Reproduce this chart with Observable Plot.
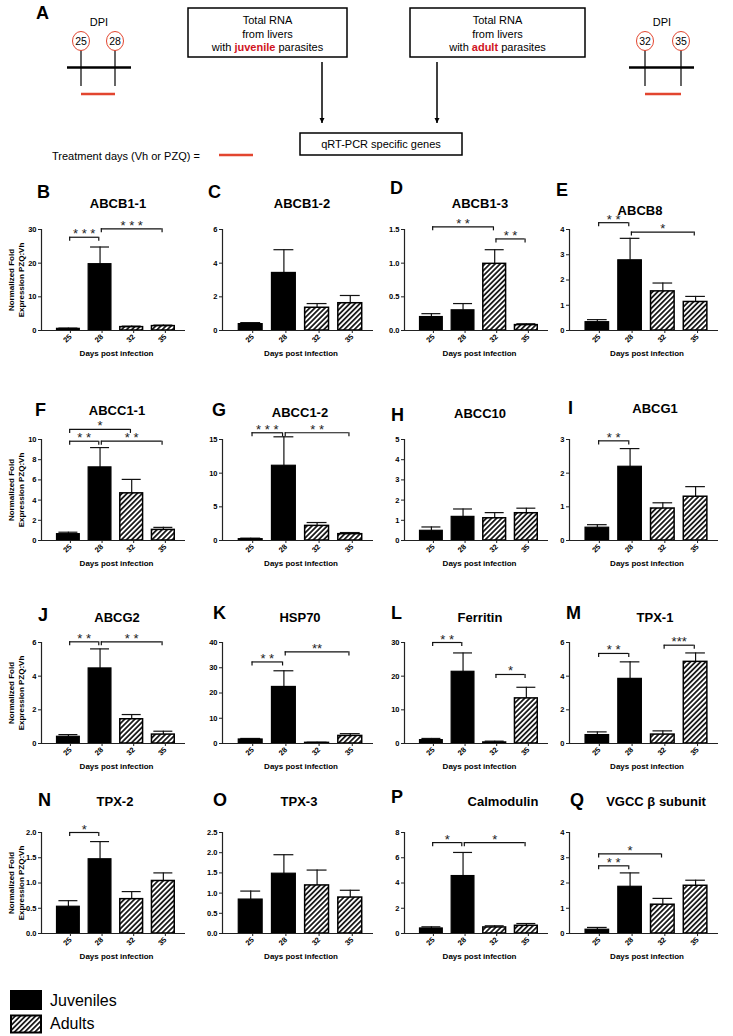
<!DOCTYPE html>
<html><head><meta charset="utf-8">
<script src="https://cdn.jsdelivr.net/npm/d3@7"></script>
<script src="https://cdn.jsdelivr.net/npm/@observablehq/plot@0.6"></script>
<style>
body{margin:0;background:#fff;font-family:"Liberation Sans",Arial,sans-serif;}
#fig{position:relative;width:733px;height:1036px;overflow:hidden;background:#fff;}
.abs{position:absolute;line-height:1;white-space:nowrap;}
.letter{font-weight:bold;font-size:18px;transform:translateY(-50%);}
.title{font-weight:bold;font-size:13px;transform:translate(-50%,-50%);}
</style></head><body><div id="fig"></div>
<script>
// ---------------- data ----------------
const days = ["25", "28", "32", "35"];
const groups = ["Juveniles", "Juveniles", "Adults", "Adults"];
const genes = ["ABCB1-1","ABCB1-2","ABCB1-3","ABCB8","ABCC1-1","ABCC1-2","ABCC10","ABCG1",
               "ABCG2","HSP70","Ferritin","TPX-1","TPX-2","TPX-3","Calmodulin","VGCC β subunit"];
const panelLetters = ["B","C","D","E","F","G","H","I","J","K","L","M","N","O","P","Q"];
// mean normalized fold expression (PZQ:Vh) at days 25, 28, 32, 35
const means = [
  [0.5, 19.7, 1.0, 1.3],
  [0.38, 3.42, 1.35, 1.62],
  [0.2, 0.3, 0.99, 0.08],
  [0.33, 2.78, 1.55, 1.13],
  [0.63, 7.24, 4.67, 1.05],
  [0.2, 11.1, 2.17, 0.94],
  [0.48, 1.17, 1.1, 1.35],
  [0.38, 2.19, 0.95, 1.3],
  [0.4, 4.46, 1.44, 0.53],
  [1.6, 22.4, 0.25, 3.0],
  [1.0, 21.3, 0.3, 13.4],
  [0.5, 3.84, 0.53, 4.85],
  [0.53, 1.47, 0.68, 1.04],
  [0.84, 1.48, 1.19, 0.89],
  [0.4, 4.55, 0.48, 0.61],
  [0.15, 1.85, 1.14, 1.89]
];
// standard error (upper error bar)
const sems = [
  [0.2, 5.1, 0.3, 0.3],
  [0.09, 1.38, 0.25, 0.46],
  [0.05, 0.1, 0.21, 0.02],
  [0.1, 0.87, 0.33, 0.22],
  [0.19, 1.96, 1.38, 0.25],
  [0.15, 4.3, 0.5, 0.24],
  [0.19, 0.39, 0.28, 0.25],
  [0.09, 0.54, 0.17, 0.3],
  [0.13, 1.16, 0.28, 0.2],
  [0.4, 6.4, 0.25, 0.9],
  [0.5, 5.6, 0.4, 3.3],
  [0.19, 1.01, 0.22, 0.53],
  [0.12, 0.35, 0.15, 0.16],
  [0.21, 0.47, 0.38, 0.18],
  [0.13, 1.87, 0.13, 0.18],
  [0.09, 0.55, 0.25, 0.22]
];
// y tick labels per panel
const yTickLabels = [
  ["0","10","20","30"],
  ["0","2","4","6"],
  ["0.0","0.5","1.0","1.5"],
  ["0","1","2","3","4"],
  ["0","2","4","6","8","10"],
  ["0","5","10","15"],
  ["0","1","2","3","4","5"],
  ["0","1","2","3"],
  ["0","2","4","6"],
  ["0","10","20","30","40"],
  ["0","10","20","30"],
  ["0","2","4","6"],
  ["0.0","0.5","1.0","1.5","2.0"],
  ["0.0","0.5","1.0","1.5","2.0","2.5"],
  ["0","2","4","6","8"],
  ["0","1","2","3","4"]
];
// significance brackets: gene, from day, to day, bracket level, stars
const brackets = [
  ["ABCB1-1","25","28",27.7,"* * *"], ["ABCB1-1","28","35",30.2,"* * *"],
  ["ABCB1-3","25","32",1.54,"* *"], ["ABCB1-3","32","35",1.36,"* *"],
  ["ABCB8","25","28",4.27,"* *"], ["ABCB8","28","35",3.9,"*"],
  ["ABCC1-1","25","28",9.83,"* *"], ["ABCC1-1","28","35",9.83,"* *"], ["ABCC1-1","25","32",11.0,"*"],
  ["ABCC1-2","25","28",16.0,"* * *"], ["ABCC1-2","28","35",16.0,"* *"],
  ["ABCG1","25","28",2.96,"* *"],
  ["ABCG2","25","28",6.04,"* *"], ["ABCG2","28","35",6.04,"* *"],
  ["HSP70","25","28",32.3,"* *"], ["HSP70","28","35",36.3,"**"],
  ["Ferritin","25","28",30,"* *"], ["Ferritin","32","35",20.5,"*"],
  ["TPX-1","25","28",5.35,"* *"], ["TPX-1","32","35",5.84,"***"],
  ["TPX-2","25","28",2.0,"*"],
  ["Calmodulin","25","28",7.2,"*"], ["Calmodulin","28","35",7.2,"*"],
  ["VGCC β subunit","25","28",2.68,"* *"], ["VGCC β subunit","25","32",3.15,"*"]
];

// ---------------- layout ----------------
const FONT = '"Liberation Sans", Arial, Helvetica, sans-serif';
const fig = document.getElementById("fig");
const colAxisX = [41, 222, 404, 569];
const colWidth = [144, 151, 144, 149];
const rowTop = [229, 439, 642, 832];
const plotH = 101;
const xDomain = [-0.85, 3.7];
const titlePos = [[118,203],[302,203],[480,203],[640,210],
                  [117,410],[300,412],[480,413],[655,408],
                  [117,617],[300,617],[480,617],[655,617],
                  [115,801],[299,801],[503,801],[656,801]];
const letterPos = [[37,192],[208,192],[390,188],[556,190],
                   [35,410],[212,410],[391,415],[568,408],
                   [38,615],[213,613],[391,613],[566,613],
                   [38,800],[213,800],[391,797],[570,800]];

// hatch pattern
const defsSvg = d3.select("body").append("svg").attr("width",0).attr("height",0)
  .style("position","absolute").style("left","0").style("top","0");
const pat = defsSvg.append("defs").append("pattern").attr("id","hatch")
  .attr("patternUnits","userSpaceOnUse").attr("width",3.6).attr("height",3.6)
  .attr("patternTransform","rotate(45)");
pat.append("rect").attr("width",3.6).attr("height",3.6).attr("fill","#fff");
pat.append("line").attr("x1",1.8).attr("y1",-1).attr("x2",1.8).attr("y2",5).attr("stroke","#000").attr("stroke-width",1.6);

// ---------------- panels ----------------
const BW = 0.36, CAP = 0.3, INSET = 0.04;
genes.forEach((gene, p) => {
  const row = Math.floor(p / 4), col = p % 4;
  const ML = col === 0 ? 41 : 30, MR = 12, MT = 40, MB = 36;
  const PW = colWidth[col];
  const labels = yTickLabels[p];
  const yTicks = labels.map(Number);
  const ymax = yTicks[yTicks.length - 1];
  const labelOf = new Map(yTicks.map((v, k) => [v, labels[k]]));
  const rows = days.map((day, i) => ({i, day, group: groups[i], mean: means[p][i], top: means[p][i] + sems[p][i]}));
  const brs = brackets.filter(b => b[0] === gene).map(b => ({
    from: days.indexOf(b[1]) + INSET, to: days.indexOf(b[2]) - INSET, level: b[3], label: b[4]
  }));
  const ends = brs.flatMap(b => [{x: b.from, y: b.level}, {x: b.to, y: b.level}]);
  const tickLen = ymax * 0.04;

  const marks = [
    Plot.ruleX(rows, {x: "i", y1: "mean", y2: "top", stroke: "#111", strokeWidth: 1.2}),
    Plot.ruleY(rows, {y: "top", x1: d => d.i - CAP, x2: d => d.i + CAP, stroke: "#111", strokeWidth: 1.2}),
    Plot.rectY(rows.filter(d => d.group === "Juveniles"), {x1: d => d.i - BW, x2: d => d.i + BW, y1: 0, y2: "mean", fill: "#000", stroke: "#000", strokeWidth: 1.2}),
    Plot.rectY(rows.filter(d => d.group === "Adults"), {x1: d => d.i - BW, x2: d => d.i + BW, y1: 0, y2: "mean", fill: "url(#hatch)", stroke: "#000", strokeWidth: 1.5}),
    Plot.ruleY(brs, {y: "level", x1: "from", x2: "to", stroke: "#111", strokeWidth: 1.2}),
    Plot.ruleX(ends, {x: "x", y1: "y", y2: d => d.y - tickLen, stroke: "#111", strokeWidth: 1.2}),
    Plot.text(brs, {x: d => (d.from + d.to) / 2, y: "level", text: "label", dy: 1, lineAnchor: "bottom", fontSize: 13, fill: "#222"}),
    Plot.ruleY([0], {stroke: "#222", strokeWidth: 1.2}),
    Plot.ruleX([xDomain[0]], {y1: 0, y2: ymax, stroke: "#222", strokeWidth: 1.2}),
    Plot.axisY({ticks: yTicks, tickFormat: d => labelOf.get(d), tickSize: 3, tickPadding: 2, fontSize: 7.5, fontWeight: "bold", label: null, stroke: "#222"}),
    Plot.axisX({ticks: [0, 1, 2, 3], tickFormat: i => days[i], tickRotate: -45, tickSize: 3, tickPadding: 2, fontSize: 7.5, fontWeight: "bold", label: null, stroke: "#222", dx: 2}),
    Plot.text(["Days post infection"], {text: d => d, frameAnchor: "bottom", dy: 23, dx: 3, lineAnchor: "middle", fontSize: 8, fontWeight: "bold"})
  ];
  if (col === 0) {
    marks.push(Plot.text(["Normalized Fold\nExpression PZQ:Vh"], {text: d => d, frameAnchor: "left", dx: -25.5, rotate: -90, lineAnchor: "middle", textAnchor: "middle", lineHeight: 1.25, fontSize: 8, fontWeight: "bold"}));
  }
  const chart = Plot.plot({
    width: ML + PW + MR, height: MT + plotH + MB,
    marginLeft: ML, marginRight: MR, marginTop: MT, marginBottom: MB,
    style: {background: "transparent", overflow: "visible", fontFamily: FONT},
    x: {type: "linear", domain: xDomain},
    y: {domain: [0, ymax]},
    marks
  });
  chart.style.position = "absolute";
  chart.style.left = (colAxisX[col] - ML) + "px";
  chart.style.top = (rowTop[row] - MT) + "px";
  fig.appendChild(chart);

  const t = document.createElement("div");
  t.className = "abs title"; t.textContent = gene;
  t.style.left = titlePos[p][0] + "px"; t.style.top = titlePos[p][1] + "px";
  fig.appendChild(t);
  const l = document.createElement("div");
  l.className = "abs letter"; l.textContent = panelLetters[p];
  l.style.left = letterPos[p][0] + "px"; l.style.top = letterPos[p][1] + "px";
  fig.appendChild(l);
});

// ---------------- panel A schematic ----------------
const RED_TXT = "#d0141e", RED_LINE = "#e2452f";
const A = d3.select(fig).append("svg").attr("width", 733).attr("height", 230)
  .style("position", "absolute").style("left", "0px").style("top", "0px")
  .style("font-family", FONT);
A.append("defs").append("marker").attr("id", "arr").attr("viewBox", "0 0 10 10")
  .attr("refX", 10).attr("refY", 5).attr("markerWidth", 5).attr("markerHeight", 6)
  .attr("markerUnits", "userSpaceOnUse").attr("orient", "auto")
  .append("path").attr("d", "M0,0 L10,5 L0,10 z").attr("fill", "#000");
A.append("text").attr("x", 36).attr("y", 19).attr("font-size", 18).attr("font-weight", "bold").text("A");

function timeline(cx, dpiX, nums, x0, x1) {
  A.append("text").attr("x", dpiX).attr("y", 26).attr("text-anchor", "middle").attr("font-size", 11).text("DPI");
  cx.forEach((x, k) => {
    A.append("line").attr("x1", x).attr("x2", x).attr("y1", 49).attr("y2", 86).attr("stroke", "#000").attr("stroke-width", 1.2);
    A.append("ellipse").attr("cx", x).attr("cy", 41).attr("rx", 8.5).attr("ry", 9.5).attr("fill", "#fff").attr("stroke", RED_LINE).attr("stroke-width", 1);
    A.append("text").attr("x", x).attr("y", 45).attr("text-anchor", "middle").attr("font-size", 10.5).text(nums[k]);
  });
  A.append("line").attr("x1", x0).attr("x2", x1).attr("y1", 67.5).attr("y2", 67.5).attr("stroke", "#000").attr("stroke-width", 2.5);
  A.append("line").attr("x1", cx[0]).attr("x2", cx[1]).attr("y1", 94).attr("y2", 94).attr("stroke", RED_LINE).attr("stroke-width", 2.5);
}
timeline([81, 115], 99, ["25", "28"], 67, 131);
timeline([645, 681], 662, ["32", "35"], 629, 694);

function box(x, y, w, h, lines) {
  A.append("rect").attr("x", x).attr("y", y).attr("width", w).attr("height", h).attr("fill", "#fff").attr("stroke", "#000").attr("stroke-width", 1.5);
  lines.forEach((ln, k) => {
    const t = A.append("text").attr("x", x + w / 2).attr("y", y + 16 + k * 13.5).attr("text-anchor", "middle").attr("font-size", 11);
    (Array.isArray(ln) ? ln : [ln]).forEach((seg, j) => {
      const s = t.append("tspan").text(seg);
      if (j === 1) s.attr("font-weight", "bold").attr("fill", RED_TXT);
    });
  });
}
box(188, 8, 159, 49, ["Total RNA", "from livers", ["with ", "juvenile", " parasites"]]);
box(410, 8, 175, 49, ["Total RNA", "from livers", ["with ", "adult", " parasites"]]);
[322, 437].forEach(x => A.append("line").attr("x1", x).attr("x2", x).attr("y1", 62).attr("y2", 123)
  .attr("stroke", "#000").attr("stroke-width", 1.5).attr("marker-end", "url(#arr)"));
A.append("rect").attr("x", 300).attr("y", 133).attr("width", 162).attr("height", 22).attr("fill", "#fff").attr("stroke", "#000").attr("stroke-width", 1.5);
A.append("text").attr("x", 381).attr("y", 148).attr("text-anchor", "middle").attr("font-size", 11).text("qRT-PCR specific genes");
A.append("text").attr("x", 52).attr("y", 160).attr("font-size", 11).text("Treatment days (Vh or PZQ) =");
A.append("line").attr("x1", 219).attr("x2", 253).attr("y1", 155).attr("y2", 155).attr("stroke", RED_LINE).attr("stroke-width", 2.5);

// ---------------- legend ----------------
const L = d3.select(fig).append("svg").attr("width", 140).attr("height", 50)
  .style("position", "absolute").style("left", "0px").style("top", "988px").style("font-family", FONT);
L.append("rect").attr("x", 10).attr("y", 2).attr("width", 32).attr("height", 20).attr("fill", "#000");
L.append("rect").attr("x", 11).attr("y", 27.5).attr("width", 30).attr("height", 17).attr("fill", "url(#hatch)").attr("stroke", "#000").attr("stroke-width", 2);
L.append("text").attr("x", 50).attr("y", 18).attr("font-size", 16).text(groups[0]);
L.append("text").attr("x", 50).attr("y", 41).attr("font-size", 16).text(groups[2]);
</script></body></html>
